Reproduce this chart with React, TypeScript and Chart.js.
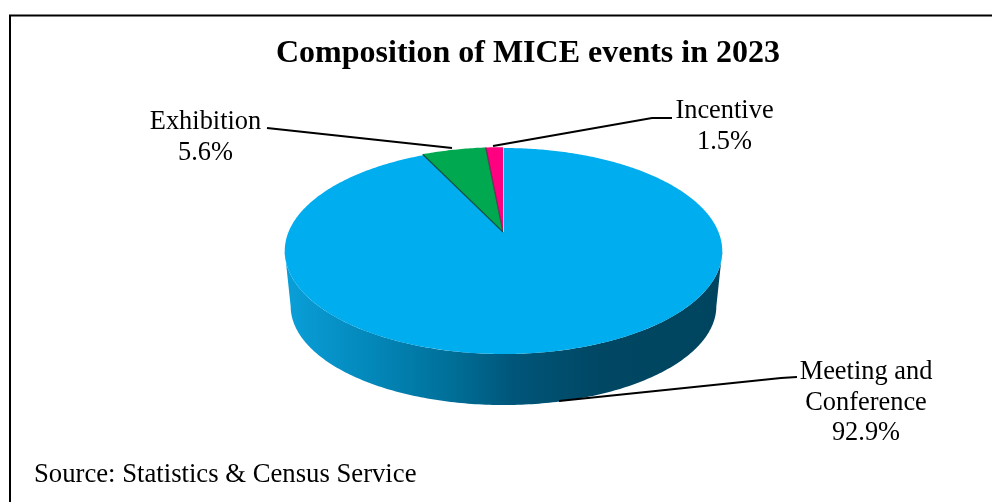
import React, { useEffect, useRef } from "react";
import { Chart, registerables } from "chart.js";

Chart.register(...registerables);

const categories = ["Meeting and Conference", "Exhibition", "Incentive"];
const values = [92.9, 5.6, 1.5];
const sliceColors = ["#00AEEF", "#00A94F", "#FF0080"];
const chartTitle = "Composition of MICE events in 2023";
const sourceNote = "Source: Statistics & Census Service";

const SERIF = '"Liberation Serif", serif';
const CX = 503.5;
const RX = 215;
const P_A = 56.7;
const P_B = 232;
const P_C = -0.1845;
const BOTTOM_SCALE = 0.973;

const labelLayout = [
  { lines: ["Meeting and", "Conference"], x: 866, y: 372.5, gap: 30.5, leader: [[559, 401], [781, 378], [797, 377]] },
  { lines: ["Exhibition"], x: 205.5, y: 122, gap: 31.5, leader: [[267, 128], [452, 148]] },
  { lines: ["Incentive"], x: 724.5, y: 111, gap: 31.5, leader: [[493, 146], [652, 118], [672, 118]] },
];

function project(theta: number, radius = 1) {
  const u = Math.sin(theta) * radius;
  const v = -Math.cos(theta) * radius;
  const d = 1 + P_C * v;
  return { x: CX + (RX * u) / d, y: (P_A * v + P_B) / d };
}

function bottom(theta: number) {
  const p = project(theta);
  return { x: CX + (p.x - CX) * BOTTOM_SCALE, y: 405 - (354 - p.y) * 0.96 };
}

const pie3d = {
  id: "pie3d",
  beforeDatasetsDraw(chart: any) {
    const ctx = chart.ctx as CanvasRenderingContext2D;
    const arcs = chart.getDatasetMeta(0).data as any[];

    // frame
    ctx.save();
    ctx.strokeStyle = "#000";
    ctx.lineWidth = 2;
    ctx.beginPath();
    ctx.moveTo(10, 502);
    ctx.lineTo(10, 15.5);
    ctx.lineTo(992, 15.5);
    ctx.stroke();

    // side wall, between the widest points of the top and lower rims
    const grad = ctx.createLinearGradient(285, 0, 723, 0);
    grad.addColorStop(0, "#0A9FD9");
    grad.addColorStop(0.2, "#0387B9");
    grad.addColorStop(0.38, "#006F98");
    grad.addColorStop(0.52, "#00567A");
    grad.addColorStop(0.72, "#004763");
    grad.addColorStop(1, "#00455F");
    ctx.fillStyle = grad;
    const t0 = Math.acos(P_C);
    const span = 2 * Math.PI - 2 * t0;
    const steps = 200;
    ctx.beginPath();
    for (let i = 0; i <= steps; i++) {
      const p = project(t0 + (span * i) / steps);
      if (i === 0) ctx.moveTo(p.x, p.y);
      else ctx.lineTo(p.x, p.y);
    }
    for (let i = steps; i >= 0; i--) {
      const p = bottom(t0 + (span * i) / steps);
      ctx.lineTo(p.x, p.y);
    }
    ctx.closePath();
    ctx.fill();

    // top face slices, from the library's computed arc angles
    arcs.forEach((arc, idx) => {
      const a0 = arc.startAngle + Math.PI / 2;
      const a1 = arc.endAngle + Math.PI / 2;
      const r = idx === 0 ? 1 : 1.012;
      ctx.beginPath();
      ctx.moveTo(CX - 0.5, P_B);
      const n = Math.max(8, Math.ceil((a1 - a0) * 80));
      for (let i = 0; i <= n; i++) {
        const p = project(a0 + ((a1 - a0) * i) / n, r);
        ctx.lineTo(p.x - (idx === 0 ? 0 : 0.5), p.y);
      }
      ctx.closePath();
      ctx.fillStyle = sliceColors[idx];
      ctx.fill();
    });

    // radial edges between slices
    ctx.lineWidth = 1.2;
    ctx.strokeStyle = "rgba(20,70,55,0.9)";
    const edgeA = project(arcs[1].startAngle + Math.PI / 2, 1.012);
    ctx.beginPath();
    ctx.moveTo(CX - 0.5, P_B);
    ctx.lineTo(edgeA.x - 0.5, edgeA.y);
    ctx.stroke();
    const edgeB = project(arcs[2].startAngle + Math.PI / 2, 1.012);
    ctx.strokeStyle = "rgba(60,40,60,0.7)";
    ctx.beginPath();
    ctx.moveTo(CX - 0.5, P_B);
    ctx.lineTo(edgeB.x - 0.5, edgeB.y);
    ctx.stroke();
    const edgeC = project(arcs[0].startAngle + Math.PI / 2, 1);
    ctx.strokeStyle = "rgba(190,215,235,0.9)";
    ctx.lineWidth = 1;
    ctx.beginPath();
    ctx.moveTo(CX, P_B);
    ctx.lineTo(edgeC.x, edgeC.y);
    ctx.stroke();

    // leaders
    ctx.strokeStyle = "#000";
    ctx.lineWidth = 2;
    labelLayout.forEach((l) => {
      ctx.beginPath();
      l.leader.forEach(([x, y], i) => (i === 0 ? ctx.moveTo(x, y) : ctx.lineTo(x, y)));
      ctx.stroke();
    });

    // labels
    ctx.fillStyle = "#000";
    ctx.font = `26.4px ${SERIF}`;
    ctx.textAlign = "center";
    ctx.textBaseline = "middle";
    labelLayout.forEach((l, i) => {
      l.lines.forEach((t, k) => ctx.fillText(t, l.x, l.y + k * l.gap));
      ctx.fillText(`${values[i].toFixed(1)}%`, l.x, l.y + l.lines.length * l.gap);
    });

    ctx.font = `26.7px ${SERIF}`;
    ctx.textAlign = "left";
    ctx.fillText(sourceNote, 34, 475);
    ctx.restore();
    return false;
  },
};

export default function App() {
  const ref = useRef<HTMLCanvasElement>(null);
  useEffect(() => {
    const chart = new Chart(ref.current!, {
      type: "pie",
      data: {
        labels: categories,
        datasets: [{ data: values, backgroundColor: sliceColors, borderWidth: 0 }],
      },
      options: {
        responsive: false,
        animation: false,
        layout: { padding: { left: 64, top: 35 } },
        plugins: {
          legend: { display: false },
          tooltip: { enabled: false },
          title: {
            display: true,
            text: chartTitle,
            color: "#000",
            font: { family: SERIF, size: 32, weight: "bold" },
            padding: { top: 0, bottom: 10 },
          },
        },
      },
      plugins: [pie3d],
    } as any);
    return () => chart.destroy();
  }, []);
  return (
    <div style={{ position: "fixed", left: 0, top: 0, width: 992, height: 502, background: "#fff" }}>
      <canvas ref={ref} width={992} height={502} style={{ display: "block" }} />
    </div>
  );
}
